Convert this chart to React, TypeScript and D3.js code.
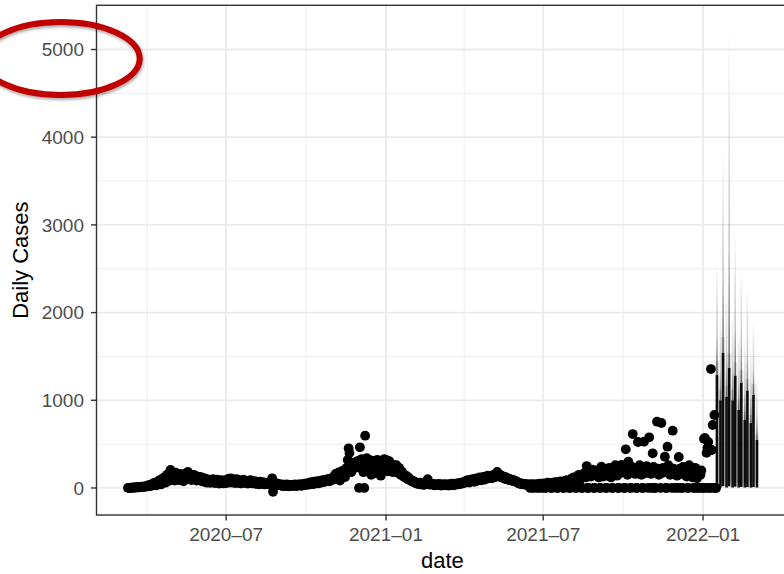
import React from "react";
import * as d3 from "d3";

const W = 784;
const H = 574;

// ---- observed daily cases (each array starts at the date given with it) ----
const mar2020 = [1, 2, 0, 3, 2, 4, 5, 3, 6, 4, 8, 7, 10, 6, 12, 9, 14, 11, 16, 13, 18, 15];
const apr2020 = [22, 30, 18, 35, 28, 25, 45, 52, 38, 60, 48, 30, 70, 62, 85, 75, 40, 95, 110, 88, 120, 60, 130, 150, 105, 80, 175, 205, 140, 110];
const may2020 = [165, 130, 85, 175, 145, 150, 120, 90, 160, 125, 140, 100, 75, 150, 118, 170, 135, 182, 100, 160, 128, 90, 138, 110, 150, 95, 120, 85, 130, 104, 92];
const jun2020 = [125, 110, 75, 118, 96, 70, 105, 82, 60, 98, 74, 90, 58, 85, 66, 100, 72, 55, 80, 62, 95, 68, 50, 76, 58, 88, 64, 52, 70, 56];
const jul2020 = [80, 96, 58, 105, 72, 64, 110, 82, 60, 92, 70, 55, 100, 76, 60, 88, 68, 52, 84, 62, 95, 66, 55, 78, 60, 50, 72, 56, 88, 62, 52];
const aug2020 = [66, 54, 78, 60, 46, 70, 54, 42, 72, 58, 48, 66, 48, 40, 62, 52, 44, 60, 46, 38, 56, 42, 110, -44, 50, 36, 54, 42, 32, 48, 38];
const sep2020 = [35, 28, 42, 25, 20, 38, 30, 22, 40, 26, 18, 34, 28, 20, 36, 24, 30, 42, 26, 22, 38, 28, 34, 45, 30, 25, 40, 32, 48, 36];
const oct2020 = [40, 52, 35, 48, 60, 42, 55, 68, 50, 45, 62, 75, 58, 70, 52, 80, 66, 60, 85, 72, 90, 68, 78, 95, 84, 100, 88, 76, 105, 92, 110];
const nov2020 = [120, 95, 140, 160, 110, 150, 175, 130, 85, 165, 190, 145, 200, 170, 125, 210, 230, 320, 452, 400, 215, 180, 250, 290, 240, 275, 230, 300, 260, 310];
const dec2020 = [0, 464, 300, 330, 220, 180, 0, 596, 310, 340, 250, 190, 320, 270, 150, 300, 240, 310, 280, 170, 300, 320, 260, 290, 160, 140, 250, 310, 280, 330, 240];
const jan2021 = [320, 280, 190, 310, 300, 250, 270, 230, 180, 260, 240, 200, 260, 210, 170, 230, 200, 150, 190, 160, 130, 150, 120, 140, 110, 100, 120, 95, 85, 90, 75];
const feb2021 = [80, 65, 72, 55, 62, 48, 58, 45, 60, 40, 52, 38, 48, 35, 50, 42, 70, 100, 45, 38, 52, 40, 46, 35, 44, 30, 42, 36];
const mar2021 = [40, 34, 46, 30, 42, 28, 38, 32, 45, 36, 30, 40, 34, 28, 44, 38, 32, 48, 36, 30, 42, 50, 38, 45, 55, 42, 50, 60, 48, 56, 64];
const apr2021 = [70, 58, 80, 66, 90, 75, 62, 85, 95, 78, 100, 88, 70, 105, 92, 110, 84, 98, 120, 102, 88, 115, 125, 108, 95, 130, 118, 140, 110, 125];
const may2021 = [120, 135, 110, 145, 130, 150, 125, 160, 182, 140, 150, 130, 145, 120, 135, 115, 110, 125, 100, 118, 95, 105, 90, 100, 85, 92, 80, 88, 75, 82, 70];
const jun2021 = [65, 55, 60, 48, 52, 45, 50, 40, 46, 38, 44, 35, 42, 30, 40, 0, 38, 45, 0, 35, 42, 30, 0, 44, 36, 0, 48, 40, 0, 50];
const jul2021 = [50, 45, 0, 0, 55, 60, 48, 52, 40, 0, 0, 62, 58, 45, 66, 50, 0, 0, 70, 55, 75, 60, 48, 0, 0, 80, 65, 90, 72, 58, 0];
const aug2021 = [0, 95, 110, 80, 120, 100, 0, 0, 130, 105, 150, 90, 125, 0, 0, 160, 140, 175, 120, 250, 0, 0, 190, 150, 130, 210, 160, 0, 0, 200, 180];
const sep2021 = [150, 200, 120, 0, 0, 243, 170, 130, 210, 160, 0, 0, 140, 190, 230, 175, 120, 0, 0, 200, 155, 260, 180, 140, 0, 0, 220, 170, 262, 190];
const oct2021 = [180, 0, 0, 441, 210, 150, 300, 190, 0, 0, 240, 615, 170, 220, 160, 0, 0, 524, 200, 260, 180, 150, 0, 0, 528, 230, 170, 250, 190, 0, 578];
const nov2021 = [210, 160, 0, 395, 240, 0, 0, 180, 756, 220, 150, 200, 0, 741, 170, 230, 190, 357, 0, 0, 471, 260, 200, 150, 180, 0, 653, 220, 170, 0];
const dec2021 = [190, 140, 0, 353, 220, 160, 0, 0, 240, 180, 150, 210, 130, 0, 0, 260, 170, 200, 140, 120, 0, 0, 230, 160, 110, 0, 0, 180, 150, 200, 0];
const jan2022 = [0, 560, 570, 0, 400, 456, 525, 0, 0, 1356, 433, 718, 0, 832, 0, 0];

const obsSegments: [string, number[]][] = [
  ["2020-03-10", mar2020], ["2020-04-01", apr2020], ["2020-05-01", may2020],
  ["2020-06-01", jun2020], ["2020-07-01", jul2020], ["2020-08-01", aug2020],
  ["2020-09-01", sep2020], ["2020-10-01", oct2020], ["2020-11-01", nov2020],
  ["2020-12-01", dec2020], ["2021-01-01", jan2021], ["2021-02-01", feb2021],
  ["2021-03-01", mar2021], ["2021-04-01", apr2021], ["2021-05-01", may2021],
  ["2021-06-01", jun2021], ["2021-07-01", jul2021], ["2021-08-01", aug2021],
  ["2021-09-01", sep2021], ["2021-10-01", oct2021], ["2021-11-01", nov2021],
  ["2021-12-01", dec2021], ["2022-01-01", jan2022],
];

// ---- forecast intervals ----
const fcDates = ["2022-01-17", "2022-01-21", "2022-01-24", "2022-01-28", "2022-01-31", "2022-02-04", "2022-02-07", "2022-02-11", "2022-02-14", "2022-02-18", "2022-02-21", "2022-02-25", "2022-02-28", "2022-03-04"];
const fcLow = [15, 5, 20, 5, 18, 5, 15, 5, 12, 5, 10, 5, 10, 5];
const fcMid = [1290, 1000, 1540, 1040, 1370, 1000, 1280, 890, 1200, 775, 1110, 740, 1060, 547];
const fcHigh = [2600, 2000, 3900, 2300, 5240, 2000, 2950, 1800, 2500, 1700, 2300, 1600, 1900, 1250];

// ---- axes ----
const yTicks = [0, 1000, 2000, 3000, 4000, 5000];
const yTickLabels = ["0", "1000", "2000", "3000", "4000", "5000"];
const yMinor = [500, 1500, 2500, 3500, 4500];
const xTicks = ["2020-07-01", "2021-01-01", "2021-07-01", "2022-01-01"];
const xTickLabels = ["2020–07", "2021–01", "2021–07", "2022–01"];
const xMinor = ["2020-04-01", "2020-10-01", "2021-04-01", "2021-10-01"];

const FONT = "'Liberation Sans', Arial, Helvetica, sans-serif";
const parse = d3.utcParse("%Y-%m-%d");
const DAY = 86400000;

export default function App() {
  const obs: { date: Date; value: number }[] = [];
  obsSegments.forEach(([start, vals]) => {
    const t0 = +(parse(start) as Date);
    vals.forEach((v, i) => obs.push({ date: new Date(t0 + i * DAY), value: v }));
  });
  const fc = fcDates.map((d, i) => ({ date: parse(d) as Date, low: fcLow[i], mid: fcMid[i], high: fcHigh[i] }));

  const L = 96.5, R = 788.4, T = 5.3, B = 515;

  const t0 = +obs[0].date;
  const t1 = +fc[fc.length - 1].date;
  const padT = (t1 - t0) * 0.05;
  const x = d3.scaleUtc().domain([new Date(t0 - padT), new Date(t1 + padT)]).range([L, R]);

  const vMin = Math.min(d3.min(obs, (d) => d.value) as number, d3.min(fc, (d) => d.low) as number);
  const vMax = Math.max(d3.max(obs, (d) => d.value) as number, d3.max(fc, (d) => d.high) as number);
  const padV = (vMax - vMin) * 0.05;
  const y = d3.scaleLinear().domain([vMin - padV, vMax + padV]).range([B, T]);

  const grid = "#ebebeb";

  return (
    <svg width={W} height={H} style={{ display: "block", position: "absolute", left: 0, top: 0 }} fontFamily={FONT}>
      <defs>
        <clipPath id="panel">
          <rect x={L} y={T} width={R - L} height={B - T} />
        </clipPath>
        {fc.map((d, i) => (
          <linearGradient key={i} id={`fg${i}`} gradientUnits="userSpaceOnUse" x1={0} x2={0} y1={y(d.mid)} y2={y(d.high)}>
            <stop offset="0" stopColor="#000" stopOpacity={0.6} />
            <stop offset="0.35" stopColor="#000" stopOpacity={0.22} />
            <stop offset="1" stopColor="#000" stopOpacity={0} />
          </linearGradient>
        ))}
        <filter id="shadow" x="-20%" y="-30%" width="140%" height="160%">
          <feDropShadow dx="1" dy="2" stdDeviation="1.6" floodColor="#000" floodOpacity="0.35" />
        </filter>
      </defs>

      <rect x={L} y={T} width={R - L} height={B - T} fill="#fff" />
      {/* minor grid */}
      {yMinor.map((v) => (
        <line key={"ym" + v} x1={L} x2={R} y1={y(v)} y2={y(v)} stroke={grid} strokeWidth={0.9} />
      ))}
      {xMinor.map((d) => (
        <line key={"xm" + d} y1={T} y2={B} x1={x(parse(d) as Date)} x2={x(parse(d) as Date)} stroke={grid} strokeWidth={0.9} />
      ))}
      {/* major grid */}
      {yTicks.map((v) => (
        <line key={"yg" + v} x1={L} x2={R} y1={y(v)} y2={y(v)} stroke={grid} strokeWidth={1.8} />
      ))}
      {xTicks.map((d) => (
        <line key={"xg" + d} y1={T} y2={B} x1={x(parse(d) as Date)} x2={x(parse(d) as Date)} stroke={grid} strokeWidth={1.8} />
      ))}

      <g clipPath="url(#panel)">
        {obs.map((d, i) => (
          <circle key={i} cx={x(d.date)} cy={y(d.value)} r={4.9} fill="#000" />
        ))}
        {fc.map((d, i) => (
          <g key={"fc" + i}>
            <line x1={x(d.date)} x2={x(d.date)} y1={y(d.low + 60)} y2={y(d.mid * 1.12)} stroke="#000" strokeOpacity={0.1} strokeWidth={4} />
            <line x1={x(d.date)} x2={x(d.date)} y1={y(d.mid)} y2={y(d.high)} stroke={`url(#fg${i})`} strokeWidth={1.6} />
            <line x1={x(d.date)} x2={x(d.date)} y1={y(d.low)} y2={y(d.mid)} stroke="#000" strokeOpacity={0.95} strokeWidth={2.6} />
          </g>
        ))}
      </g>

      <rect x={L} y={T} width={R - L} height={B - T} fill="none" stroke="#333333" strokeWidth={1.4} />

      {/* y axis */}
      {yTicks.map((v, i) => (
        <g key={"yt" + v}>
          <line x1={L - 5.5} x2={L} y1={y(v)} y2={y(v)} stroke="#333333" strokeWidth={1.4} />
          <text x={L - 12.5} y={y(v)} dy="0.35em" textAnchor="end" fontSize={19} fill="#4d4d4d">{yTickLabels[i]}</text>
        </g>
      ))}
      {/* x axis */}
      {xTicks.map((d, i) => (
        <g key={"xt" + d}>
          <line x1={x(parse(d) as Date)} x2={x(parse(d) as Date)} y1={B} y2={B + 5.5} stroke="#333333" strokeWidth={1.4} />
          <text x={x(parse(d) as Date)} y={B + 26} textAnchor="middle" fontSize={19} fill="#4d4d4d">{xTickLabels[i]}</text>
        </g>
      ))}

      <text x={(L + R) / 2} y={568} textAnchor="middle" fontSize={22} fill="#000">date</text>
      <text transform={`translate(28, ${(T + B) / 2}) rotate(-90)`} textAnchor="middle" fontSize={22} fill="#000">Daily Cases</text>

      {/* annotation ellipse */}
      <ellipse cx={60.7} cy={58.5} rx={79} ry={36.5} fill="none" stroke="#c00000" strokeWidth={6} filter="url(#shadow)" />
    </svg>
  );
}
